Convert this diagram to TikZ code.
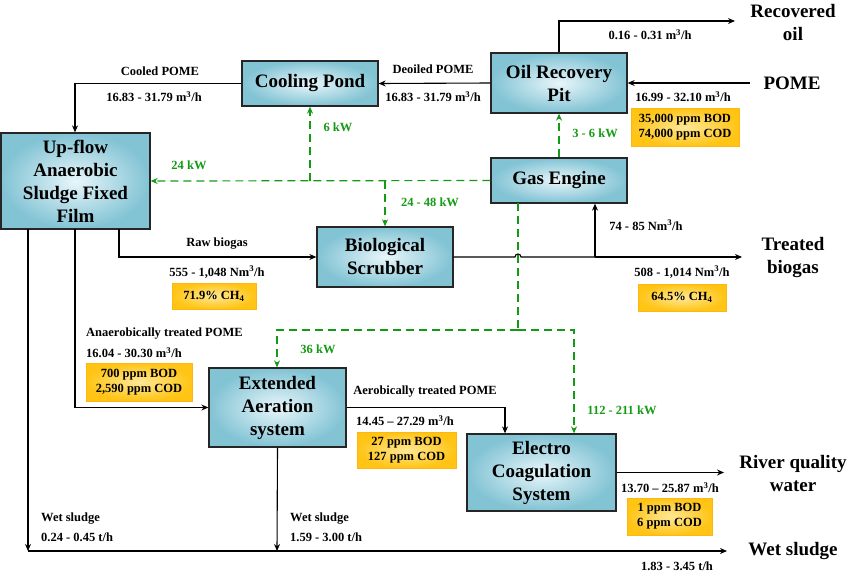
\documentclass[tikz,border=0pt]{standalone}
\usepackage{fontspec}
\setmainfont{Liberation Serif}
\usetikzlibrary{arrows.meta,calc}
\definecolor{gr}{RGB}{20,155,20}
\definecolor{boxout}{RGB}{130,195,212}
\definecolor{boxin}{RGB}{232,246,250}
\definecolor{yelout}{RGB}{255,196,20}
\definecolor{yelin}{RGB}{255,232,150}
\tikzset{
 proc/.style={draw=black!85,line width=1.3pt,inner color=boxin,outer color=boxout,align=center,font=\fontsize{19}{23}\selectfont\bfseries,inner sep=0pt},
 yel/.style={draw=yelout!80!orange,line width=0.6pt,inner color=yelin,outer color=yelout,align=center,font=\fontsize{12.5}{15}\selectfont\bfseries,inner sep=0pt},
 lab/.style={font=\fontsize{12.5}{14}\selectfont\bfseries,inner sep=0pt,align=left},
 glab/.style={lab,text=gr},
 big/.style={font=\fontsize{19}{23}\selectfont\bfseries,align=center,inner sep=0pt},
 flow/.style={line width=1.1pt,-{Stealth[length=7pt,width=6pt]}},
 gflow/.style={line width=1.2pt,draw=gr,dash pattern=on 8pt off 5pt,-{Stealth[length=7pt,width=6pt,fill=gr]}},
 gline/.style={line width=1.2pt,draw=gr,dash pattern=on 8pt off 5pt},
}
\begin{document}
\begin{tikzpicture}[x=1pt,y=-1pt]
\useasboundingbox (0,0) rectangle (850,573);
% boxes
\node[proc,minimum width=136pt,minimum height=45pt] (cool) at (310,83.5) {Cooling Pond};
\node[proc,minimum width=149pt,minimum height=96pt] (up) at (75.5,181) {Up-flow\\Anaerobic\\Sludge Fixed\\Film};
\node[proc,minimum width=136pt,minimum height=60pt] (scrub) at (385,257) {Biological\\Scrubber};
\node[proc,minimum width=136pt,minimum height=60pt] (oil) at (559,83) {Oil Recovery\\Pit};
\node[proc,minimum width=136pt,minimum height=45pt] (gas) at (559,180.5) {Gas Engine};
\node[proc,minimum width=137pt,minimum height=79pt] (ext) at (277.5,407.5) {Extended\\Aeration\\system};
\node[proc,minimum width=149pt,minimum height=77pt] (ec) at (541.5,472.5) {Electro\\Coagulation\\System};
% outputs text
\node[big] (rec) at (793,22) {Recovered\\oil};
\node[big] (pome) at (792,83) {POME};
\node[big] (treat) at (793,257) {Treated\\biogas};
\node[big] (river) at (793,473) {River quality\\water};
\node[big] (ws) at (793,551) {Wet sludge};
% coordinates
\coordinate (recend) at (735,21);
\coordinate (pomest) at (750,83);
\coordinate (treatend) at (742,257);
\coordinate (riverend) at (724,472.5);
\coordinate (wsend) at (727,551);
\coordinate (wsl) at (28,551);
\coordinate (wsm) at (277,551);
% black flows
\draw[flow] (oil.north) -- (559,21) -- (recend);
\draw[flow] (pomest) -- (oil.east);
\draw[flow] (oil.west) -- (cool.east);
\draw[flow] (cool.west) -- (75,83.5) -- (up.north -| 75,0);
\draw[flow] (119,229) -- (119,257) -- (scrub.west);
\draw[line width=1.1pt] (scrub.east) -- (515,257) arc[start angle=180,end angle=360,radius=3] -- (595,257);
\draw[flow] (595,257) -- (treatend);
\draw[flow] (595,257) -- (gas.south -| 595,0);
\draw[flow] (75,229) -- (75,407.5) -- (ext.west);
\draw[flow] (ext.east) -- (505,407.5) -- (ec.north -| 505,0);
\draw[flow] (ec.east) -- (riverend);
\draw[flow] (28,229) -- (wsl);
\draw[flow] (ext.south) -- (wsm);
\draw[flow] (wsl) -- (wsend);
% green flows
\draw[gflow] (gas.west) -- (up.east);
\draw[gflow] (310,181) -- (cool.south);
\draw[gflow] (385,181) -- (scrub.north);
\draw[gflow] (gas.north) -- (oil.south);
\draw[gline] (518,203) -- (518,330);
\draw[gflow] (518,330) -- (277,330) -- (ext.north -| 277,0);
\draw[gflow] (518,330) -- (574,330) -- (ec.north -| 574,0);
% labels
\node[lab] (l1) at (650,35) {0.16 - 0.31 m\textsuperscript{3}/h};
\node[lab] (l2) at (683,97) {16.99 - 32.10 m\textsuperscript{3}/h};
\node[yel,minimum width=108pt,minimum height=38pt] (y1) at (685,127) {35,000 ppm BOD\\74,000 ppm COD};
\node[lab] (l3) at (433,69) {Deoiled POME};
\node[lab] (l4) at (433,97) {16.83 - 31.79 m\textsuperscript{3}/h};
\node[lab] (l5) at (160,71) {Cooled POME};
\node[lab] (l6) at (154,97) {16.83 - 31.79 m\textsuperscript{3}/h};
\node[glab] (g1) at (189,165) {24 kW};
\node[glab] (g2) at (338,127) {6 kW};
\node[glab] (g3) at (430,202) {24 - 48 kW};
\node[glab] (g4) at (595,133) {3 - 6 kW};
\node[glab] (g5) at (318,349) {36 kW};
\node[glab] (g6) at (622,410) {112 - 211 kW};
\node[lab] (l7) at (646,225) {74 - 85 Nm\textsuperscript{3}/h};
\node[lab] (l8) at (682,272) {508 - 1,014 Nm\textsuperscript{3}/h};
\node[yel,minimum width=88pt,minimum height=27pt] (y2) at (682,297.5) {64.5\% CH\textsubscript{4}};
\node[lab] (l9) at (217,244) {Raw biogas};
\node[lab] (l10) at (217,272) {555 - 1,048 Nm\textsuperscript{3}/h};
\node[yel,minimum width=84pt,minimum height=26pt] (y3) at (214,296) {71.9\% CH\textsubscript{4}};
\node[lab,anchor=west] (l11) at (86,334) {Anaerobically treated POME};
\node[lab,anchor=west] (l12) at (86,353) {16.04 - 30.30 m\textsuperscript{3}/h};
\node[yel,minimum width=106pt,minimum height=38pt] (y4) at (139,382) {700 ppm BOD\\2,590 ppm COD};
\node[lab] (l13) at (425,392) {Aerobically treated POME};
\node[lab] (l14) at (405,421) {14.45 -- 27.29 m\textsuperscript{3}/h};
\node[yel,minimum width=99pt,minimum height=36pt] (y5) at (406.5,450) {27 ppm BOD\\127 ppm COD};
\node[lab] (l15) at (670,488) {13.70 -- 25.87 m\textsuperscript{3}/h};
\node[yel,minimum width=85pt,minimum height=37pt] (y6) at (669.5,516.5) {1 ppm BOD\\6 ppm COD};
\node[lab,anchor=west] (l16) at (41,519) {Wet sludge};
\node[lab,anchor=west] (l17) at (41,537) {0.24 - 0.45 t/h};
\node[lab,anchor=west] (l18) at (290,519) {Wet sludge};
\node[lab,anchor=west] (l19) at (290,537) {1.59 - 3.00 t/h};
\node[lab] (l20) at (677,566) {1.83 - 3.45 t/h};
\end{tikzpicture}
\end{document}
